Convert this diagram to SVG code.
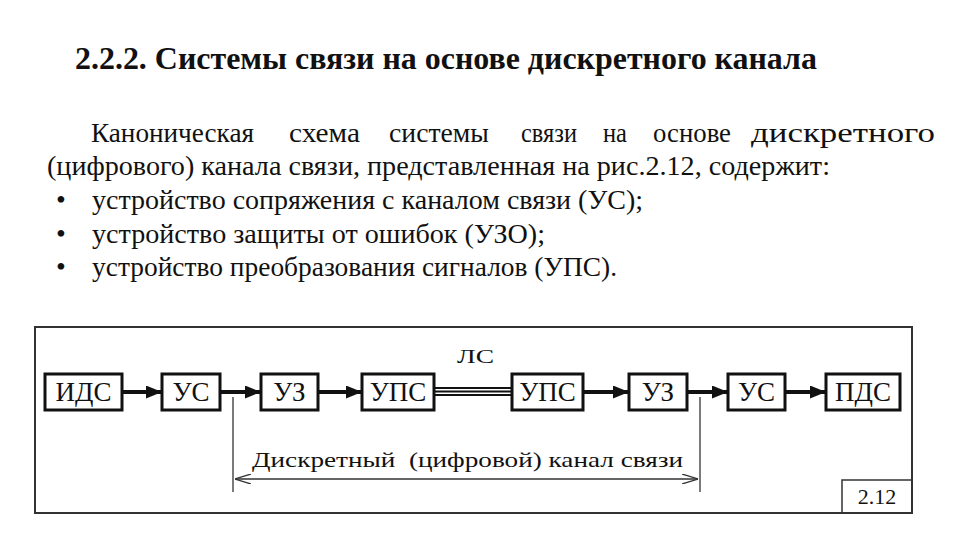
<svg xmlns="http://www.w3.org/2000/svg" width="960" height="540" viewBox="0 0 960 540" font-family="'Liberation Serif', 'DejaVu Serif', serif">
<style>
text{font-family:'Liberation Serif','DejaVu Serif',serif;fill:#111}
.title{font-size:31px;font-weight:bold}
.body{font-size:28px}
.box{fill:#fff;stroke:#111;stroke-width:3}
.lbl{font-size:27px;text-anchor:middle}
.thick{stroke:#111;stroke-width:4;fill:none}
.thin{stroke:#333;stroke-width:1.3;fill:none}
</style>
<defs>
<marker id="ah" viewBox="0 0 16 13" refX="16" refY="6.5" markerWidth="16" markerHeight="13" markerUnits="userSpaceOnUse" orient="auto">
<path d="M0,0 L16,6.5 L0,13 z" fill="#111"/>
</marker>
<marker id="oh" viewBox="0 0 16 10" refX="16" refY="5" markerWidth="16" markerHeight="10" markerUnits="userSpaceOnUse" orient="auto-start-reverse">
<path d="M0,0 L16,5 L0,10" fill="none" stroke="#333" stroke-width="1.3"/>
</marker>
</defs>
<rect width="960" height="540" fill="#fff"/>
<text class="title" x="75" y="69" textLength="742" lengthAdjust="spacingAndGlyphs">2.2.2. Системы связи на основе дискретного канала</text>
<g>
<text class="body" x="91" y="142" textLength="163" lengthAdjust="spacingAndGlyphs">Каноническая</text>
<text class="body" x="289" y="142" textLength="71" lengthAdjust="spacingAndGlyphs">схема</text>
<text class="body" x="389" y="142" textLength="100" lengthAdjust="spacingAndGlyphs">системы</text>
<text class="body" x="521" y="142" textLength="56" lengthAdjust="spacingAndGlyphs">связи</text>
<text class="body" x="603" y="142" textLength="24" lengthAdjust="spacingAndGlyphs">на</text>
<text class="body" x="653" y="142" textLength="78" lengthAdjust="spacingAndGlyphs">основе</text>
<text class="body" x="751" y="142" textLength="184" lengthAdjust="spacingAndGlyphs">дискретного</text>
<text class="body" x="47" y="175" textLength="783" lengthAdjust="spacingAndGlyphs">(цифрового) канала связи, представленная на рис.2.12, содержит:</text>
<text class="body" x="56" y="209">•</text>
<text class="body" x="92" y="209" textLength="551" lengthAdjust="spacingAndGlyphs">устройство сопряжения с каналом связи (УС);</text>
<text class="body" x="56" y="243">•</text>
<text class="body" x="92" y="243" textLength="453" lengthAdjust="spacingAndGlyphs">устройство защиты от ошибок (УЗО);</text>
<text class="body" x="56" y="276">•</text>
<text class="body" x="92" y="276" textLength="525" lengthAdjust="spacingAndGlyphs">устройство преобразования сигналов (УПС).</text>
</g>
<rect x="35" y="327" width="877" height="186" fill="none" stroke="#333" stroke-width="2"/>
<g id="connectors">
<line class="thick" x1="122" y1="392" x2="162" y2="392" marker-end="url(#ah)"/>
<line class="thick" x1="220" y1="392" x2="261" y2="392" marker-end="url(#ah)"/>
<line class="thick" x1="318" y1="392" x2="362" y2="392" marker-end="url(#ah)"/>
<line class="thick" x1="583" y1="392" x2="629" y2="392" marker-end="url(#ah)"/>
<line class="thick" x1="687" y1="392" x2="728" y2="392" marker-end="url(#ah)"/>
<line class="thick" x1="785" y1="392" x2="826" y2="392" marker-end="url(#ah)"/>
<g stroke="#111" stroke-width="2">
<line x1="434" y1="388" x2="512" y2="388"/>
<line x1="434" y1="391.5" x2="512" y2="391.5"/>
<line x1="434" y1="395" x2="512" y2="395"/>
</g>
<line class="thin" x1="233" y1="397" x2="233" y2="492"/>
<line class="thin" x1="700" y1="397" x2="700" y2="492"/>
<line class="thin" x1="235" y1="479" x2="698" y2="479" marker-start="url(#oh)" marker-end="url(#oh)"/>
</g>
<text x="457" y="363" font-size="19" textLength="37" lengthAdjust="spacingAndGlyphs">ЛС</text>
<text x="252" y="467" font-size="21" textLength="431" lengthAdjust="spacingAndGlyphs" xml:space="preserve">Дискретный  (цифровой) канал связи</text>
<g id="ids"><rect class="box" x="45" y="374" width="77" height="36"/><text class="lbl" x="83.5" y="401">ИДС</text></g>
<g id="us1"><rect class="box" x="162" y="374" width="58" height="36"/><text class="lbl" x="191" y="401">УС</text></g>
<g id="uz1"><rect class="box" x="261" y="374" width="57" height="36"/><text class="lbl" x="289.5" y="401">УЗ</text></g>
<g id="ups1"><rect class="box" x="362" y="374" width="72" height="36"/><text class="lbl" x="398" y="401">УПС</text></g>
<g id="ups2"><rect class="box" x="512" y="374" width="71" height="36"/><text class="lbl" x="547.5" y="401">УПС</text></g>
<g id="uz2"><rect class="box" x="629" y="374" width="58" height="36"/><text class="lbl" x="658" y="401">УЗ</text></g>
<g id="us2"><rect class="box" x="728" y="374" width="57" height="36"/><text class="lbl" x="756.5" y="401">УС</text></g>
<g id="pds"><rect class="box" x="826" y="374" width="74" height="36"/><text class="lbl" x="863" y="401">ПДС</text></g>
<g id="fig"><rect x="842" y="480" width="70" height="33" fill="none" stroke="#333" stroke-width="1.5"/><text x="877" y="504" font-size="22" text-anchor="middle">2.12</text></g>
</svg>
